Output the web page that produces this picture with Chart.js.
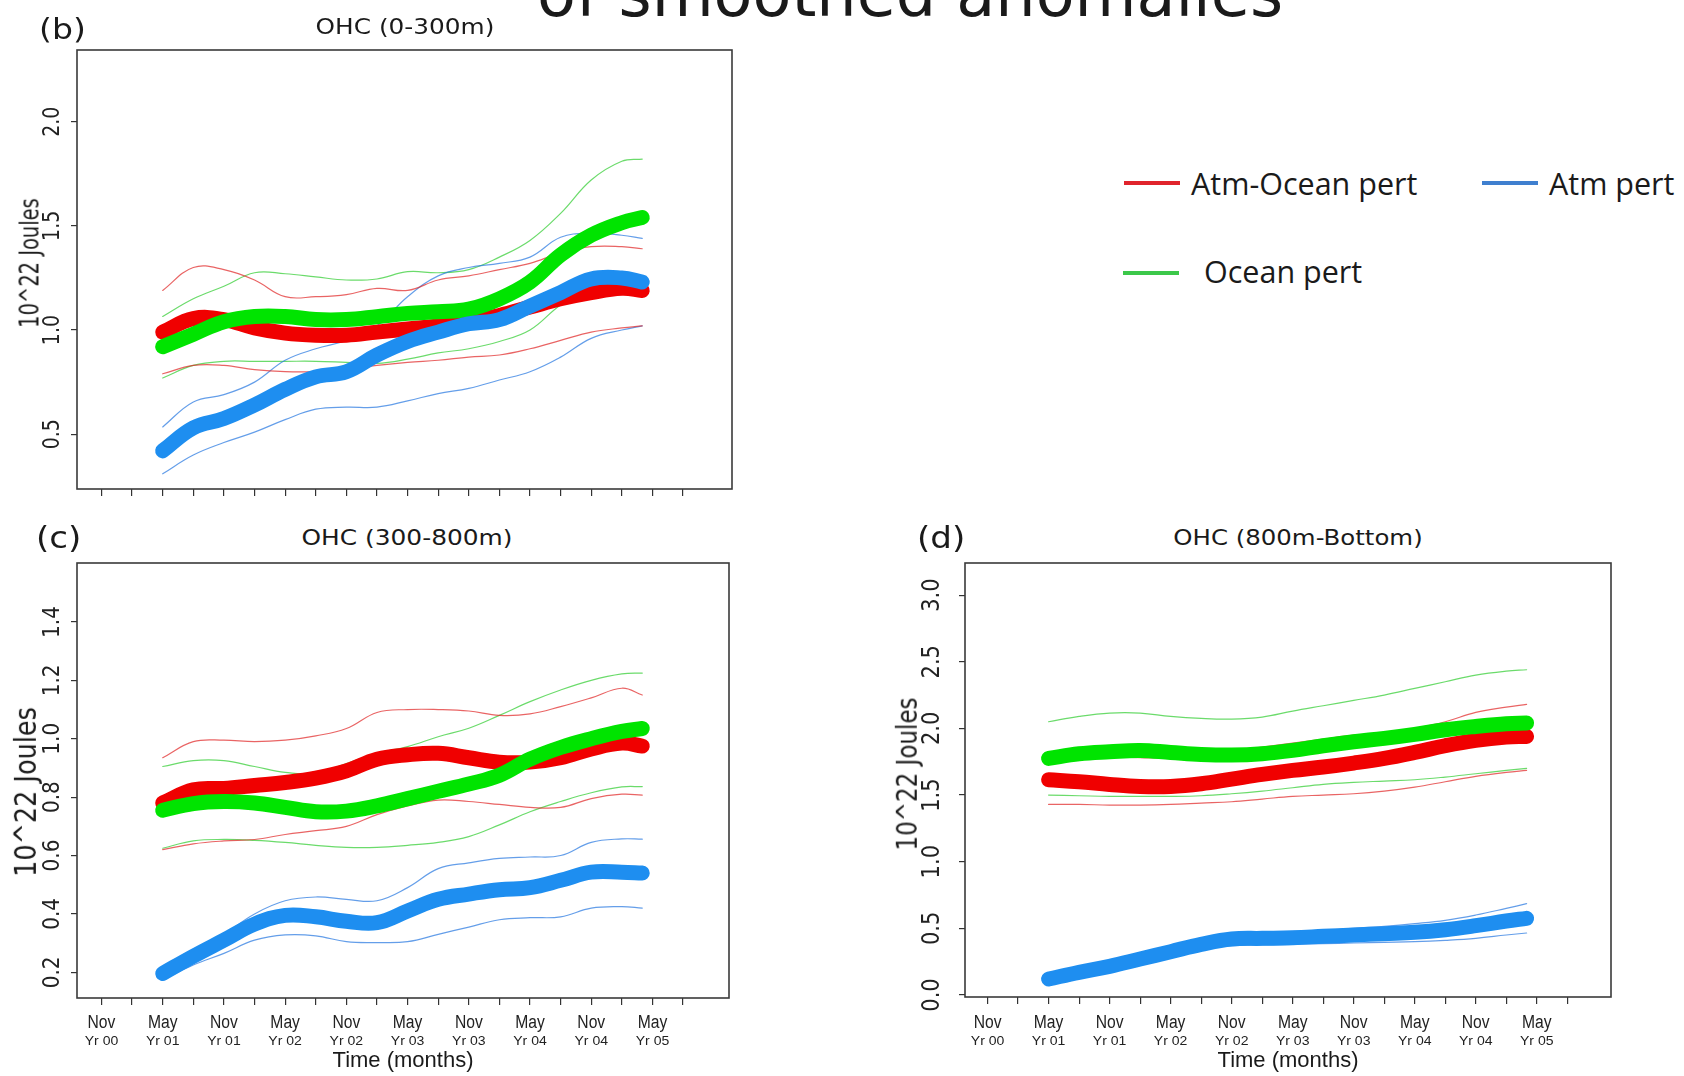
<!DOCTYPE html>
<html>
<head>
<meta charset="utf-8">
<script src="https://cdn.jsdelivr.net/npm/chart.js@4.4.1/dist/chart.umd.min.js"></script>
<style>
html,body{margin:0;padding:0;background:#fff;}
#wrap{position:relative;width:1684px;height:1076px;overflow:hidden;background:#fff;}
#wrap canvas{position:absolute;}
.t{position:absolute;white-space:nowrap;line-height:1;color:#1a1a1a;}
.lg{position:absolute;height:4px;}
</style>
</head>
<body>
<div id="wrap">
<canvas id="cb"></canvas>
<canvas id="cc"></canvas>
<canvas id="cd"></canvas>
</div>
<script>
// ---------------- data ----------------
const months = [6,9,12,15,18,21,24,27,30,33,36,39,42,45,48,51,53];

// (b) OHC (0-300m)
const b_atmOcean    = [0.99,1.055,1.05,1.01,0.985,0.975,0.975,0.99,1.005,1.02,1.04,1.07,1.11,1.15,1.18,1.2,1.19];
const b_atmOcean_hi = [1.19,1.30,1.29,1.24,1.16,1.16,1.17,1.20,1.19,1.24,1.26,1.29,1.32,1.37,1.40,1.40,1.39];
const b_atmOcean_lo = [0.79,0.83,0.83,0.81,0.80,0.80,0.81,0.83,0.845,0.855,0.87,0.88,0.91,0.95,0.99,1.01,1.02];
const b_atm         = [0.42,0.53,0.575,0.64,0.715,0.775,0.80,0.88,0.945,0.99,1.03,1.05,1.115,1.18,1.245,1.25,1.23];
const b_atm_hi      = [0.535,0.655,0.69,0.75,0.855,0.91,0.95,1.02,1.16,1.26,1.30,1.32,1.35,1.445,1.465,1.455,1.44];
const b_atm_lo      = [0.31,0.40,0.46,0.51,0.57,0.62,0.63,0.63,0.66,0.695,0.72,0.76,0.80,0.87,0.96,1.0,1.02];
const b_ocean       = [0.92,0.98,1.04,1.065,1.065,1.05,1.05,1.064,1.08,1.088,1.10,1.15,1.23,1.36,1.455,1.515,1.54];
const b_ocean_hi    = [1.065,1.15,1.21,1.275,1.27,1.255,1.24,1.245,1.28,1.275,1.29,1.35,1.43,1.56,1.72,1.81,1.82];
const b_ocean_lo    = [0.77,0.83,0.85,0.85,0.85,0.85,0.845,0.84,0.86,0.89,0.91,0.945,1.0,1.12,1.2,1.21,1.21];

// (c) OHC (300-800m)
const c_atmOcean    = [0.78,0.825,0.83,0.84,0.85,0.865,0.89,0.93,0.945,0.95,0.935,0.92,0.92,0.935,0.965,0.985,0.975];
const c_atmOcean_hi = [0.935,0.99,0.995,0.99,0.995,1.01,1.035,1.09,1.1,1.1,1.095,1.08,1.085,1.11,1.14,1.173,1.15];
const c_atmOcean_lo = [0.62,0.64,0.65,0.655,0.672,0.685,0.70,0.74,0.77,0.79,0.785,0.775,0.765,0.765,0.795,0.81,0.807];
const c_atm         = [0.196,0.255,0.31,0.365,0.395,0.39,0.375,0.37,0.41,0.45,0.468,0.483,0.49,0.515,0.543,0.543,0.54];
const c_atm_hi      = [0.215,0.27,0.33,0.40,0.445,0.458,0.45,0.445,0.49,0.555,0.575,0.59,0.595,0.60,0.645,0.657,0.656];
const c_atm_lo      = [0.174,0.225,0.265,0.31,0.328,0.325,0.305,0.302,0.305,0.33,0.355,0.38,0.387,0.39,0.42,0.425,0.42];
const c_ocean       = [0.755,0.778,0.785,0.78,0.765,0.75,0.752,0.77,0.795,0.82,0.845,0.875,0.93,0.97,1.0,1.025,1.035];
const c_ocean_hi    = [0.905,0.925,0.925,0.905,0.885,0.88,0.915,0.95,0.973,1.007,1.036,1.08,1.127,1.167,1.2,1.222,1.225];
const c_ocean_lo    = [0.625,0.65,0.655,0.652,0.645,0.635,0.628,0.628,0.635,0.645,0.665,0.705,0.75,0.785,0.815,0.835,0.836];

// (d) OHC (800m-Bottom)
const d_atmOcean    = [1.615,1.60,1.58,1.565,1.565,1.585,1.62,1.655,1.685,1.71,1.74,1.775,1.82,1.87,1.91,1.935,1.94];
const d_atmOcean_hi = [1.80,1.80,1.79,1.78,1.78,1.80,1.83,1.86,1.89,1.92,1.95,1.96,2.0,2.05,2.12,2.16,2.18];
const d_atmOcean_lo = [1.43,1.43,1.425,1.425,1.43,1.44,1.45,1.47,1.49,1.50,1.51,1.53,1.56,1.60,1.64,1.67,1.685];
const d_atm         = [0.12,0.17,0.215,0.27,0.325,0.38,0.42,0.425,0.43,0.44,0.45,0.46,0.47,0.49,0.52,0.555,0.575];
const d_atm_hi      = [0.14,0.19,0.24,0.30,0.36,0.42,0.465,0.47,0.475,0.485,0.50,0.515,0.535,0.56,0.60,0.65,0.685];
const d_atm_lo      = [0.10,0.15,0.19,0.24,0.295,0.345,0.37,0.375,0.38,0.385,0.39,0.395,0.40,0.41,0.425,0.45,0.465];
const d_ocean       = [1.775,1.81,1.825,1.835,1.82,1.805,1.80,1.81,1.835,1.87,1.90,1.925,1.955,1.99,2.015,2.035,2.04];
const d_ocean_hi    = [2.05,2.09,2.115,2.115,2.09,2.075,2.07,2.085,2.13,2.17,2.21,2.25,2.30,2.35,2.40,2.43,2.44];
const d_ocean_lo    = [1.50,1.495,1.49,1.49,1.49,1.495,1.51,1.53,1.555,1.58,1.595,1.605,1.615,1.635,1.66,1.685,1.70];

// ticks and labels
const yTicksB = [0.5,1.0,1.5,2.0];
const yTicksC = [0.2,0.4,0.6,0.8,1.0,1.2,1.4];
const yTicksD = [0.0,0.5,1.0,1.5,2.0,2.5,3.0];
const xTickMonths  = [0,3,6,9,12,15,18,21,24,27,30,33,36,39,42,45,48,51,54,57];
const xLabelMonths = [0,6,12,18,24,30,36,42,48,54];
const xMonthLabels = ["Nov","May","Nov","May","Nov","May","Nov","May","Nov","May"];
const xYearLabels  = ["Yr 00","Yr 01","Yr 01","Yr 02","Yr 02","Yr 03","Yr 03","Yr 04","Yr 04","Yr 05"];
const seriesNames  = ["Atm-Ocean pert","Atm pert","Ocean pert"];
const panelTitles  = ["OHC (0-300m)","OHC (300-800m)","OHC (800m-Bottom)"];
const panelLetters = ["(b)","(c)","(d)"];
const yAxisTitle   = "10^22 Joules";
const xAxisTitle   = "Time (months)";
const bigTitle     = "of smoothed anomalies";

// ---------------- styling ----------------
const RED = '#f00000', GREEN = '#00e400', BLUE = '#1e8ef0';
const RED_T = 'rgba(225,40,40,0.72)', GREEN_T = 'rgba(50,205,50,0.72)', BLUE_T = 'rgba(40,120,225,0.72)';
const THICK = 15, THIN = 1.2;

const wrap = document.getElementById('wrap');

function ds(arr, color, width, order) {
  return {
    data: months.map((m, i) => ({x: m, y: arr[i]})),
    borderColor: color, backgroundColor: color, borderWidth: width,
    pointRadius: 0, pointHoverRadius: 0, tension: 0.4, fill: false,
    borderCapStyle: 'round', borderJoinStyle: 'round', order: order
  };
}

const rPlugin = {
  id: 'rstyle',
  afterDraw(chart, args, o) {
    const ctx = chart.ctx, a = chart.chartArea, xs = chart.scales.x, ys = chart.scales.y;
    ctx.save();
    ctx.strokeStyle = '#3a3a3a'; ctx.lineWidth = 1.6;
    ctx.strokeRect(a.left, a.top, a.right - a.left, a.bottom - a.top);
    ctx.fillStyle = '#222';
    ctx.font = o.yFont; ctx.textAlign = 'center'; ctx.textBaseline = 'middle';
    ys.ticks.forEach(t => {
      const py = ys.getPixelForValue(t.value);
      ctx.save();
      ctx.translate(o.yLabelX, py);
      ctx.scale(o.yStretch, 1);
      ctx.rotate(-Math.PI / 2);
      ctx.fillText(t.value.toFixed(1), 0, 0);
      ctx.restore();
    });
    if (o.xLabels) {
      ctx.textBaseline = 'alphabetic';
      xLabelMonths.forEach((m, i) => {
        const px = xs.getPixelForValue(m);
        ctx.save(); ctx.translate(px, o.monthBase); ctx.scale(0.87, 1);
        ctx.font = '18px "Liberation Sans"'; ctx.fillText(xMonthLabels[i], 0, 0); ctx.restore();
        ctx.save(); ctx.translate(px, o.yearBase); ctx.scale(1.08, 1);
        ctx.font = '13px "Liberation Sans"'; ctx.fillText(xYearLabels[i], 0, 0); ctx.restore();
      });
    }
    ctx.restore();
  }
};

function makePanel(id, box, ycfg, xcfg, sets, lab) {
  const L = 70, T = 10, R = 20, B = lab.B;
  const cv = document.getElementById(id);
  const left = box.l - L, top = box.t - T;
  cv.width = box.r - box.l + L + R;
  cv.height = box.b - box.t + T + B;
  cv.style.left = left + 'px'; cv.style.top = top + 'px';
  new Chart(cv, {
    type: 'line',
    data: {datasets: sets},
    plugins: [rPlugin],
    options: {
      responsive: false, animation: false, devicePixelRatio: 1,
      layout: {padding: {left: 0, top: T, right: R, bottom: 0}},
      plugins: {
        legend: {display: false}, tooltip: {enabled: false},
        rstyle: {
          yFont: lab.yFont, yLabelX: lab.yLabelX - left, yStretch: lab.yStretch,
          xLabels: lab.xLabels, monthBase: 1028 - top, yearBase: 1045 - top
        }
      },
      scales: {
        x: {
          type: 'linear', min: xcfg.min, max: xcfg.max,
          afterBuildTicks: s => { s.ticks = xTickMonths.map(v => ({value: v})); },
          afterFit: s => { s.height = B; },
          ticks: {display: false},
          grid: {drawOnChartArea: false, drawTicks: true, tickLength: 7, color: '#333', lineWidth: 1.2},
          border: {display: false}
        },
        y: {
          type: 'linear', min: ycfg.min, max: ycfg.max,
          afterBuildTicks: s => { s.ticks = ycfg.ticks.map(v => ({value: v})); },
          afterFit: s => { s.width = L; },
          ticks: {display: false},
          grid: {drawOnChartArea: false, drawTicks: true, tickLength: 6, color: '#333', lineWidth: 1.2},
          border: {display: false}
        }
      }
    }
  });
}

function sets(mo, mhi, mlo, a, ahi, alo, oc, ohi, olo) {
  return [
    ds(a, BLUE, THICK, 0), ds(oc, GREEN, THICK, 1), ds(mo, RED, THICK, 2),
    ds(mhi, RED_T, THIN, 3), ds(mlo, RED_T, THIN, 3),
    ds(ahi, BLUE_T, THIN, 3), ds(alo, BLUE_T, THIN, 3),
    ds(ohi, GREEN_T, THIN, 3), ds(olo, GREEN_T, THIN, 3)
  ];
}

makePanel('cb', {l: 77, t: 50, r: 732, b: 489},
  {min: 0.237, max: 2.344, ticks: yTicksB}, {min: -2.4, max: 61.8},
  sets(b_atmOcean, b_atmOcean_hi, b_atmOcean_lo, b_atm, b_atm_hi, b_atm_lo, b_ocean, b_ocean_hi, b_ocean_lo),
  {B: 30, yFont: '19px "DejaVu Sans"', yLabelX: 53, yStretch: 1.2, xLabels: false});

makePanel('cc', {l: 77, t: 563, r: 729, b: 998},
  {min: 0.112, max: 1.602, ticks: yTicksC}, {min: -2.4, max: 61.5},
  sets(c_atmOcean, c_atmOcean_hi, c_atmOcean_lo, c_atm, c_atm_hi, c_atm_lo, c_ocean, c_ocean_hi, c_ocean_lo),
  {B: 80, yFont: '20px "DejaVu Sans"', yLabelX: 53.5, yStretch: 1.15, xLabels: true});

makePanel('cd', {l: 965, t: 563, r: 1611, b: 997},
  {min: -0.015, max: 3.241, ticks: yTicksD}, {min: -2.22, max: 61.3},
  sets(d_atmOcean, d_atmOcean_hi, d_atmOcean_lo, d_atm, d_atm_hi, d_atm_lo, d_ocean, d_ocean_hi, d_ocean_lo),
  {B: 80, yFont: '21px "DejaVu Sans"', yLabelX: 932, yStretch: 1.2, xLabels: true});

// ---------------- html text ----------------
const K = {dv: 0.846, lib: 0.8465, os: 0.888};
const FAM = {dv: '"DejaVu Sans"', lib: '"Liberation Sans"', os: '"Open Sans"'};
function place(s, x, base, f, size, align, sx) {
  const d = document.createElement('div'); d.className = 't'; d.textContent = s;
  d.style.fontFamily = FAM[f]; d.style.fontSize = size + 'px';
  d.style.top = (base - K[f] * size) + 'px'; d.style.left = x + 'px';
  if (align === 'center') { d.style.transformOrigin = '50% 50%'; d.style.transform = 'translateX(-50%) scaleX(' + sx + ')'; }
  else { d.style.transformOrigin = '0 50%'; d.style.transform = 'scaleX(' + sx + ')'; }
  wrap.appendChild(d);
}
function placeRot(s, cx, cy, f, size, sx) {
  const d = document.createElement('div'); d.className = 't'; d.textContent = s;
  d.style.fontFamily = FAM[f]; d.style.fontSize = size + 'px';
  d.style.left = cx + 'px'; d.style.top = cy + 'px';
  d.style.transformOrigin = '50% 50%';
  d.style.transform = 'translate(-50%,-50%) scale(' + sx + ',1) rotate(-90deg)';
  wrap.appendChild(d);
}
function legLine(x, y, w, color) {
  const d = document.createElement('div'); d.className = 'lg';
  d.style.left = x + 'px'; d.style.top = (y - 2) + 'px'; d.style.width = w + 'px'; d.style.background = color;
  wrap.appendChild(d);
}

place(bigTitle, 537, 17, 'dv', 63.6, 'left', 1);

place(panelLetters[0], 39, 40, 'dv', 29, 'left', 1.14);
place(panelLetters[1], 36, 548, 'dv', 31, 'left', 1.1);
place(panelLetters[2], 917, 548, 'dv', 31, 'left', 1.1);

place(panelTitles[0], 405, 35, 'dv', 21, 'center', 1.18);
place(panelTitles[1], 407, 545.5, 'dv', 22, 'center', 1.13);
place(panelTitles[2], 1297.6, 545.5, 'dv', 22, 'center', 1.11);

placeRot(yAxisTitle, 30, 263, 'dv', 19.5, 1.32);
placeRot(yAxisTitle, 26, 792, 'dv', 25.5, 1.15);
placeRot(yAxisTitle, 908, 774, 'dv', 23, 1.2);

place(xAxisTitle, 403, 1068, 'lib', 22, 'center', 1);
place(xAxisTitle, 1288, 1068, 'lib', 22, 'center', 1);

legLine(1124, 183, 56, '#e0242c');
place(seriesNames[0], 1191, 195, 'os', 30.5, 'left', 1);
legLine(1482, 183, 56, '#3f7fcf');
place(seriesNames[1], 1549, 195, 'os', 30.5, 'left', 1);
legLine(1123, 273, 56, '#3cc84a');
place(seriesNames[2], 1204, 283, 'os', 30.5, 'left', 1);
</script>
</body>
</html>
